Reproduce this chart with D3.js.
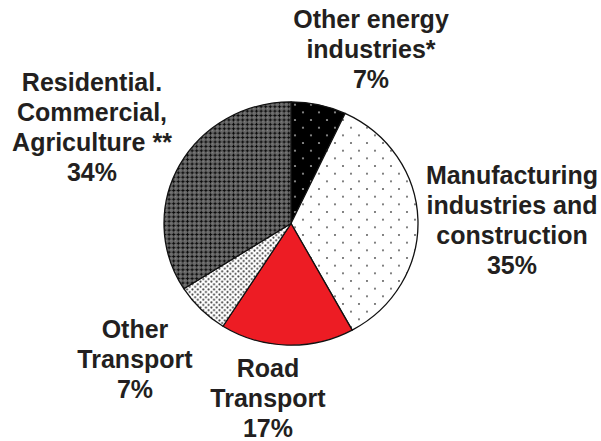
<!DOCTYPE html>
<html>
<head>
<meta charset="utf-8">
<script src="https://cdn.jsdelivr.net/npm/d3@7"></script>
<style>
  body { margin: 0; background: #fff; }
  text { font-family: "Liberation Sans", Arial, sans-serif; font-weight: bold; fill: #231f20; }
</style>
</head>
<body>
<div id="chart"></div>
<script>
const kWidth = 601;
const kHeight = 441;

// slices, clockwise from 12 o'clock
const sectors = ["Other energy industries*", "Manufacturing industries and construction",
                 "Road Transport", "Other Transport", "Residential. Commercial, Agriculture **"];
const shares = [7, 35, 17, 7, 34];
const fills = ["url(#dotsBlack)", "url(#dotsWhite)", "#ed1c24", "url(#dotsDense)", "url(#hatch)"];

// label lines and where each block sits
const labelLines = [
  ["Other energy", "industries*", "7%"],
  ["Manufacturing", "industries and", "construction", "35%"],
  ["Road", "Transport", "17%"],
  ["Other", "Transport", "7%"],
  ["Residential.", "Commercial,", "Agriculture **", "34%"]
];
const labelX = [371, 512, 268, 135, 92];
const labelTop = [28, 184, 377, 338, 91];

const cx = 291, cy = 223.5, radius = 127, squash = 0.958;

const svg = d3.select("#chart")
  .append("svg")
  .attr("width", kWidth)
  .attr("height", kHeight);

const defs = svg.append("defs");

function dotPattern(id, size, bg, dot, r)
{
  const p = defs.append("pattern")
    .attr("id", id)
    .attr("width", size)
    .attr("height", size)
    .attr("patternUnits", "userSpaceOnUse");
  p.append("rect").attr("width", size).attr("height", size).attr("fill", bg);
  [[size / 4, size / 4], [size * 3 / 4, size * 3 / 4]].forEach(c => {
    p.append("circle").attr("cx", c[0]).attr("cy", c[1]).attr("r", r).attr("fill", dot);
  });
}

dotPattern("dotsBlack", 16, "#000", "#a0a0a0", 1.1);
dotPattern("dotsWhite", 16, "#fff", "#606060", 1.05);
dotPattern("dotsDense", 5.4, "#fff", "#3a3a3a", 1.05);

const hatch = defs.append("pattern")
  .attr("id", "hatch")
  .attr("width", 4.6)
  .attr("height", 4.6)
  .attr("patternUnits", "userSpaceOnUse");
hatch.append("rect").attr("width", 4.6).attr("height", 4.6).attr("fill", "#6a6a6a");
hatch.append("rect").attr("x", 0.6).attr("y", 1.75).attr("width", 3.4).attr("height", 1.1).attr("fill", "#0a0a0a");
hatch.append("rect").attr("x", 1.75).attr("y", 0.6).attr("width", 1.1).attr("height", 3.4).attr("fill", "#0a0a0a");
hatch.append("rect").attr("x", 4.1).attr("y", 4.1).attr("width", 1).attr("height", 1).attr("fill", "#c8c8c8");

const pie = d3.pie().sort(null).value(d => d);
const arc = d3.arc().innerRadius(0).outerRadius(radius);

const g = svg.append("g")
  .attr("transform", `translate(${cx}, ${cy}) scale(1, ${squash})`);

g.selectAll("path")
  .data(pie(shares))
  .enter()
  .append("path")
  .attr("d", arc)
  .attr("fill", (d, i) => fills[i])
  .attr("stroke", "#111")
  .attr("stroke-width", 1.3)
  .attr("stroke-linejoin", "round");

labelLines.forEach((lines, i) => {
  const t = svg.append("text")
    .attr("text-anchor", "middle")
    .attr("font-size", 25);
  lines.forEach((s, j) => {
    t.append("tspan")
      .attr("x", labelX[i])
      .attr("y", labelTop[i] + j * 30)
      .text(s);
  });
});
</script>
</body>
</html>
